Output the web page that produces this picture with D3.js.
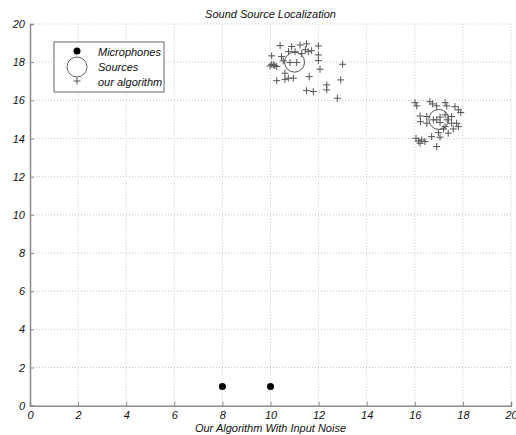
<!DOCTYPE html>
<html><head><meta charset="utf-8">
<script src="https://cdn.jsdelivr.net/npm/d3@7"></script>
<style>
body{margin:0;background:#fff;}
text{font-family:"Liberation Sans",Arial,sans-serif;font-style:italic;font-size:11px;fill:#111;}
</style></head>
<body><svg id="c" width="516" height="435"></svg>
<script>
const title = "Sound Source Localization";
const xLabel = "Our Algorithm With Input Noise";
const xTicks = [0,2,4,6,8,10,12,14,16,18,20];
const yTicks = [0,2,4,6,8,10,12,14,16,18,20];
const legendLabels = ["Microphones","Sources","our algorithm"];
const microphones = [[8,1],[10,1]];
const sources = [[11,18],[17,15]];
const estimates = [
 [10.40,18.87],[10.88,18.82],[11.23,18.90],[11.50,18.96],[11.99,18.85],
 [10.05,18.33],[10.46,18.29],[11.02,18.55],[11.57,18.55],[11.71,18.60],
 [11.99,18.38],[9.98,17.80],[10.12,17.86],[10.26,17.77],[10.81,17.98],
 [11.09,17.98],[11.99,18.08],[12.06,17.63],[13.00,17.89],[10.26,17.03],
 [10.60,17.10],[10.74,17.16],[10.95,17.16],[10.60,17.42],[11.61,17.24],
 [12.92,17.07],[11.50,16.51],[11.78,16.46],[12.34,16.81],[12.34,16.55],
 [12.78,16.11],[10.05,17.88],[10.18,17.82],[10.53,18.07],[10.75,18.55],
 [11.30,18.45],[11.45,18.65],
 [16.01,15.88],[16.08,15.71],[16.63,15.93],[16.74,15.81],[16.91,15.71],
 [17.26,15.88],[17.33,15.71],[17.67,15.67],[17.81,15.50],[17.91,15.36],
 [16.22,15.18],[16.24,14.88],[16.50,15.15],[16.77,14.98],[17.05,15.12],
 [17.05,14.84],[17.26,15.24],[17.35,14.98],[17.53,15.15],[17.53,14.80],
 [17.74,14.80],[17.81,14.62],[17.26,14.62],[17.39,14.28],[16.98,14.31],
 [16.70,14.10],[17.05,14.07],[16.05,14.01],[16.15,13.87],[16.29,13.93],
 [16.42,13.84],[16.22,13.75],[16.91,13.58],[17.19,14.50],[17.60,14.50],
 [16.50,14.80],[16.91,14.98]
];

const svg = d3.select("#c");
const x = d3.scaleLinear().domain([0,20]).range([30,511]);
const y = d3.scaleLinear().domain([0,20]).range([405.7,24]);

// grid
const g = svg.append("g");
g.selectAll(".gx").data(xTicks.filter(d=>d>0)).enter().append("line")
 .attr("x1",d=>x(d)).attr("x2",d=>x(d)).attr("y1",y(0)).attr("y2",y(20))
 .attr("stroke","#c8c8c8").attr("stroke-width",1).attr("stroke-dasharray","1,2");
g.selectAll(".gy").data(yTicks.filter(d=>d>0)).enter().append("line")
 .attr("y1",d=>y(d)).attr("y2",d=>y(d)).attr("x1",x(0)).attr("x2",x(20))
 .attr("stroke","#c8c8c8").attr("stroke-width",1).attr("stroke-dasharray","1,2");

// axes
const xa = svg.append("g").attr("transform",`translate(0,${y(0)})`)
 .call(d3.axisBottom(x).tickValues(xTicks).tickSize(-4).tickPadding(6).tickFormat(d3.format("d")));
const ya = svg.append("g").attr("transform",`translate(${x(0)},0)`)
 .call(d3.axisLeft(y).tickValues(yTicks).tickSize(-4).tickPadding(5).tickFormat(d3.format("d")));
[xa,ya].forEach(a=>{
 a.select(".domain").attr("stroke","#8a8a8a").attr("stroke-width",1.5);
 a.selectAll(".tick line").attr("stroke","#8a8a8a");
 a.selectAll("text").attr("font-family",null).attr("font-size",null).attr("fill","#111");
});
xa.selectAll(".tick line").filter(d=>d===0).remove();

// title & label
svg.append("text").attr("x",270.5).attr("y",18).attr("text-anchor","middle").text(title);
svg.append("text").attr("x",270.5).attr("y",432).attr("text-anchor","middle").text(xLabel);

// estimates (plus markers)
const ps = 3.5;
svg.append("g").selectAll("path").data(estimates).enter().append("path")
 .attr("d",d=>`M${x(d[0])-ps},${y(d[1])}h${2*ps}M${x(d[0])},${y(d[1])-ps}v${2*ps}`)
 .attr("stroke","#555").attr("stroke-width",1).attr("fill","none");

// sources
svg.append("g").selectAll("circle").data(sources).enter().append("circle")
 .attr("cx",d=>x(d[0])).attr("cy",d=>y(d[1])).attr("r",10)
 .attr("fill","none").attr("stroke","#555").attr("stroke-width",1);

// microphones
svg.append("g").selectAll("circle").data(microphones).enter().append("circle")
 .attr("cx",d=>x(d[0])).attr("cy",d=>y(d[1])).attr("r",3.5).attr("fill","#000");

// legend
const lg = svg.append("g");
lg.append("rect").attr("x",54).attr("y",42).attr("width",110).attr("height",50)
 .attr("fill","#fff").attr("stroke","#666").attr("stroke-width",1);
lg.append("circle").attr("cx",77).attr("cy",51).attr("r",3.5).attr("fill","#000");
lg.append("circle").attr("cx",77).attr("cy",67).attr("r",10).attr("fill","none").attr("stroke","#666");
lg.append("path").attr("d",`M${77-ps},81h${2*ps}M77,${81-ps}v${2*ps}`).attr("stroke","#555");
lg.selectAll("text").data(legendLabels).enter().append("text")
 .attr("x",98).attr("y",(d,i)=>56+i*15).text(d=>d);
</script></body></html>
